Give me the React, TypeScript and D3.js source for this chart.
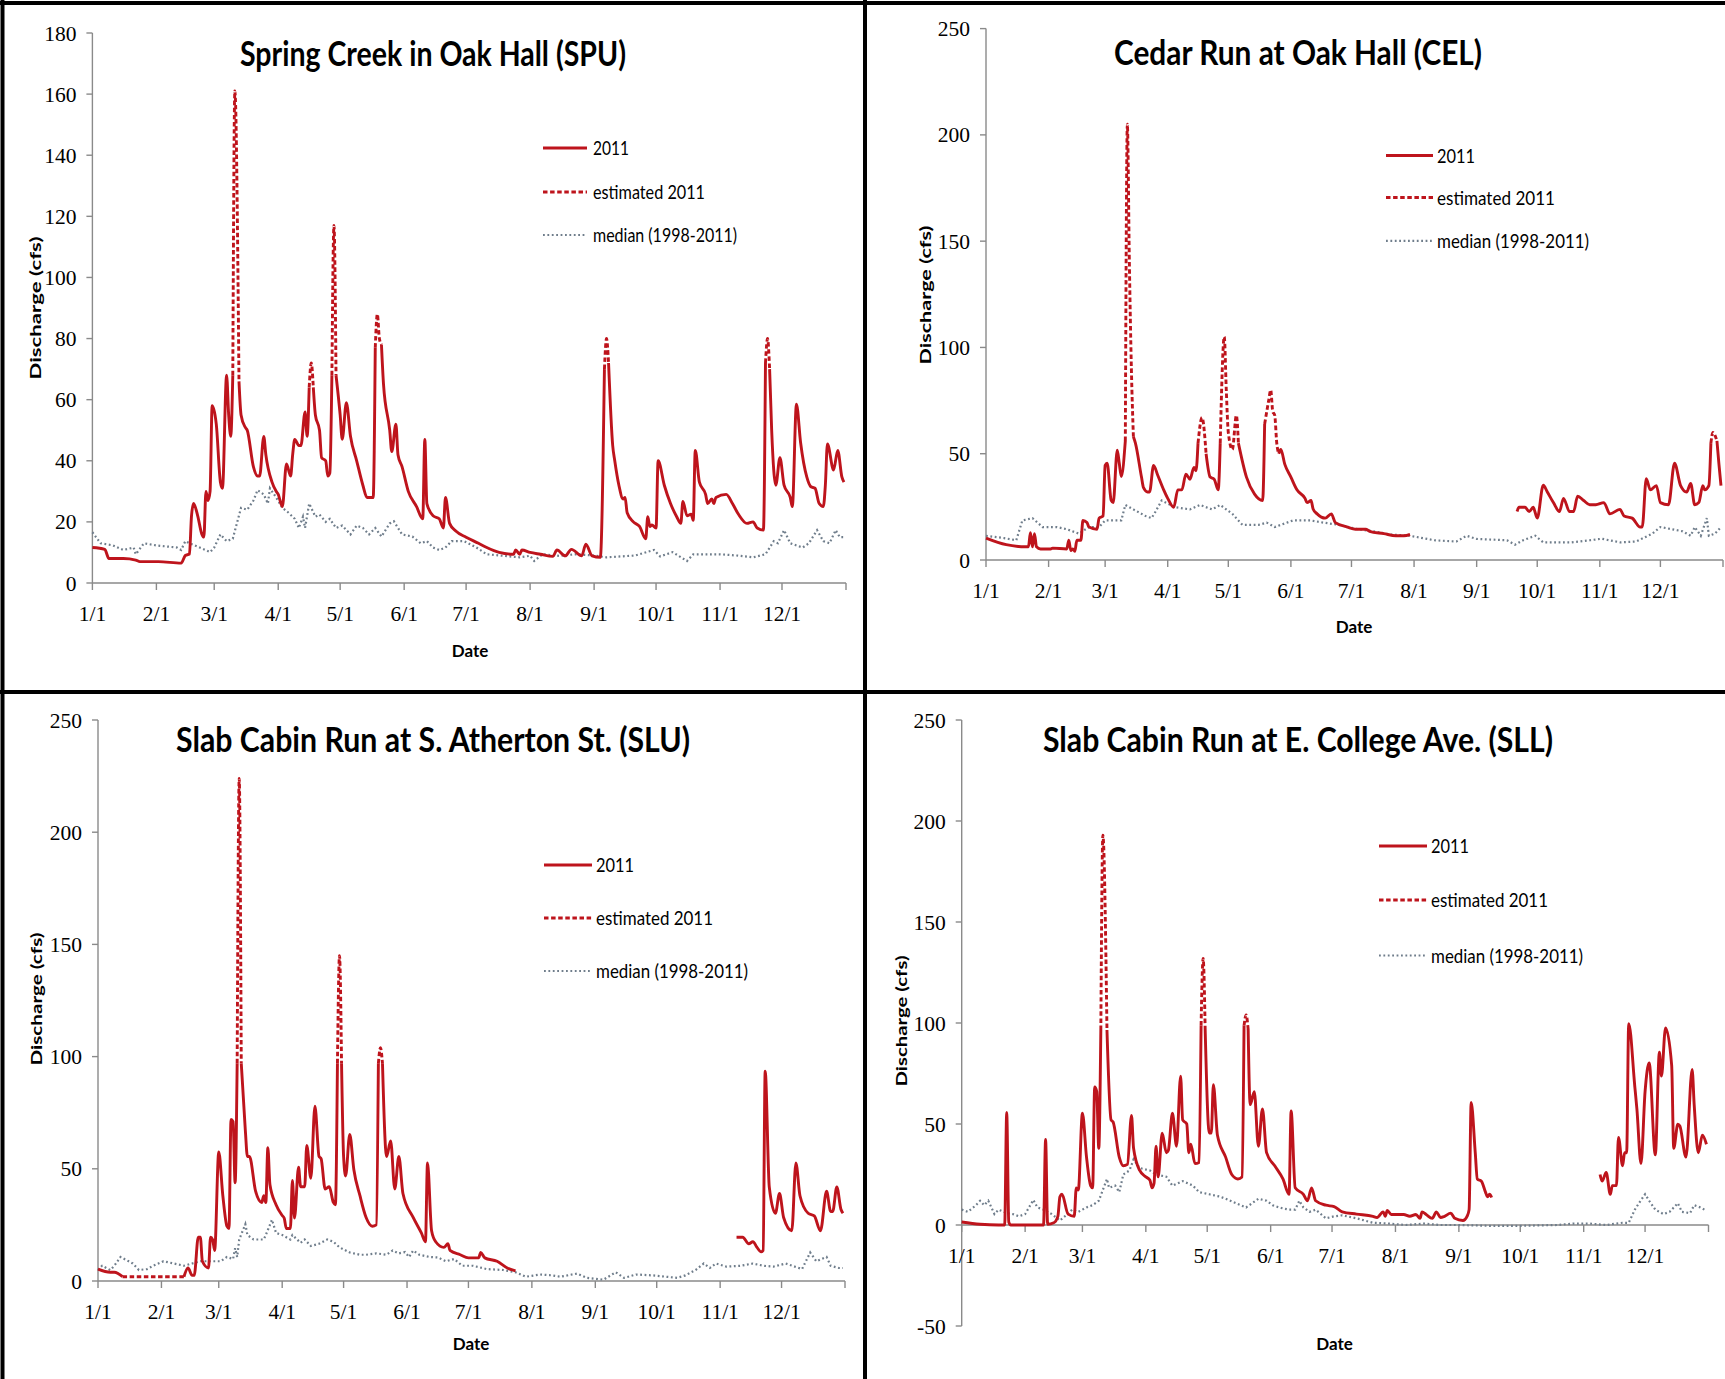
import React from 'react';
import * as d3 from 'd3';

type Pt = [number, number];

// ---- shared axis values -------------------------------------------------
const monthDays = [0, 31, 59, 90, 120, 151, 181, 212, 243, 273, 304, 334, 365];
const monthLabels = ['1/1', '2/1', '3/1', '4/1', '5/1', '6/1', '7/1', '8/1', '9/1', '10/1', '11/1', '12/1'];
const legendLabels = ['2011', 'estimated 2011', 'median (1998-2011)'];

const spuTicks = [0, 20, 40, 60, 80, 100, 120, 140, 160, 180];
const cfsTicks = [0, 50, 100, 150, 200, 250];
const sllTicks = [-50, 0, 50, 100, 150, 200, 250];

// ---- Spring Creek in Oak Hall (SPU) -----------------------------------
const spuObs: Pt[][] = [
  [[0, 11.6], [6, 11], [8, 8], [15, 8], [21, 7.5], [23, 7], [32, 7], [43, 6.5], [45, 9], [47, 9.5], [48, 22], [49, 26], [51, 22], [53, 16], [54, 15], [55, 30], [56, 27], [57, 30], [58, 58], [60, 52], [62, 33], [63, 31], [65, 68], [66, 55], [67, 48], [68, 68]],
  [[71, 66], [72, 55], [74, 51], [75, 50], [78, 38], [80, 35], [81, 35], [83, 48], [84, 42], [87, 33], [89, 30], [90, 29], [92, 25], [94, 39], [96, 35], [97, 42], [98, 47], [100, 45], [101, 45], [103, 56], [104, 48], [105, 64]],
  [[107, 64], [108, 55], [110, 50], [111, 41], [113, 40], [114, 35], [115, 36], [116, 68]],
  [[118, 68], [120, 55], [121, 47], [123, 59], [125, 48], [128, 40], [131, 32], [133, 28], [136, 28], [137, 77]],
  [[140, 78], [141, 65], [144, 50], [145, 43], [147, 52], [148, 42], [150, 38], [153, 30], [157, 25], [160, 21], [161, 47], [162, 26], [165, 22], [168, 21], [170, 18], [171, 28], [173, 19.5], [176, 17], [181, 15], [187, 13], [191, 11.6], [197, 10], [204, 9.4], [205, 10.8], [207, 9.4], [208, 10.8], [212, 10], [217, 9.4], [223, 8.7], [225, 10.8], [229, 8.9], [232, 11], [237, 8.9], [239, 12.7], [242, 8.9], [246, 8.4], [248, 70]],
  [[250, 72], [252, 45], [253, 40], [255, 32], [257, 27.5], [258, 28], [259, 23], [262, 20], [265, 18.5], [268, 14.5], [269, 21.7], [270, 18.5], [271, 19], [273, 18], [274, 40], [277, 32], [280, 26], [283, 21.7], [285, 19.5], [286, 26.7], [288, 22], [290, 22.5], [291, 20.5], [292, 43.4], [294, 33], [297, 29], [298, 26], [300, 27.5], [301, 26], [302, 28], [307, 29], [310, 26], [313, 22.4], [317, 19.5], [320, 20], [322, 18], [325, 17.3], [326, 72]],
  [[328, 70], [329, 50], [331, 32], [333, 41], [335, 32], [338, 28], [339, 25], [341, 58.5], [343, 46], [346, 34.7], [348, 31.5], [350, 31], [352, 26], [354, 25], [355, 32], [356, 45.5], [359, 37], [361, 43.4], [363, 34.7], [364, 33]],
];
const spuEst: Pt[][] = [
  [[68, 68], [69, 161], [71, 66]],
  [[105, 64], [106, 72], [107, 64]],
  [[116, 68], [117, 117], [118, 68]],
  [[137, 77], [138, 88], [139, 80], [140, 78]],
  [[248, 70], [249, 80], [250, 72]],
  [[326, 72], [327, 80], [328, 70]],
];
const spuMedian: Pt[] = [
  [0, 16.6], [4, 13], [10, 12.3], [15, 10.8], [20, 11.6], [21, 9.4], [25, 13], [31, 12.3], [41, 11.6], [43, 10.8], [45, 13.7], [47, 13], [52, 11.6], [57, 10.1], [59, 11.6], [62, 15.9], [65, 13.7], [68, 14.5], [72, 24.6], [75, 24], [78, 27], [80, 30.4], [83, 29], [85, 26], [86, 31], [89, 28], [92, 24.6], [95, 23], [98, 21], [100, 18], [102, 21.7], [103, 18], [105, 26], [108, 21.7], [110, 22.4], [113, 20], [115, 21], [118, 18], [121, 18.8], [125, 15.9], [128, 18.8], [131, 18], [134, 15.9], [137, 18], [140, 15.2], [144, 19.5], [146, 20.2], [150, 15.9], [155, 15.2], [159, 13], [162, 13.7], [165, 11.6], [168, 10.8], [171, 11.6], [174, 13.7], [180, 13.7], [186, 11.6], [191, 9.4], [199, 8.9], [207, 8.4], [212, 8.9], [214, 7.2], [218, 9.4], [226, 8.9], [234, 9.4], [243, 9], [249, 8.4], [263, 9], [272, 10.8], [275, 8.7], [281, 10.1], [288, 7.2], [291, 9.4], [304, 9.4], [312, 9], [320, 8.4], [326, 9.4], [330, 13.7], [332, 13], [335, 17.3], [338, 13], [344, 11.6], [347, 13], [351, 17.3], [354, 13.7], [357, 13], [360, 17.3], [362, 15], [364, 15],
];

// ---- Cedar Run at Oak Hall (CEL) ----------------------------------------
const celObs: Pt[][] = [
  [[0, 10.3], [10, 7.2], [20, 6.2], [21, 6.2], [22, 12.8], [23, 6.2], [24, 12.4], [25, 6.2], [27, 5.2], [32, 5.2], [33, 5.6], [40, 5.2], [41, 9.3], [42, 4.5], [43, 5.2], [44, 4.1], [45, 9.3], [47, 9.3], [48, 18.6], [50, 17.6], [51, 15.5], [55, 14.5], [56, 19.7], [58, 20.7], [59, 44.5], [60, 45.5], [62, 28], [63, 27], [65, 51.7], [66, 45.5], [67, 39.3], [69, 56]],
  [[73, 58], [74, 55], [77, 39], [78, 34], [80, 32], [81, 32], [83, 44.5], [85, 40], [88, 33], [90, 29], [93, 24.8], [95, 33], [97, 33], [99, 40.4], [101, 38], [103, 43.5], [104, 42], [105, 55]],
  [[109, 50], [111, 39], [113, 38], [115, 33], [116, 55]],
  [[125, 55], [129, 39], [133, 31], [137, 28], [138, 64]],
  [[145, 50], [146, 52], [148, 45], [151, 39], [154, 33], [158, 29], [159, 27], [161, 28], [162, 24], [164, 21.7], [168, 19.7], [171, 21.7], [173, 17.6], [179, 15.5], [183, 14.5], [188, 14.5], [190, 13.5], [197, 12.4], [203, 11.4], [207, 11.4], [210, 12]],
  [[263, 22.8], [264, 24.8], [267, 24.8], [269, 22.8], [271, 24.8], [273, 19.7], [276, 35.2], [278, 32], [281, 27], [284, 22.8], [286, 29], [289, 22.8], [291, 22.8], [293, 30], [296, 28], [299, 26], [302, 26], [306, 27], [309, 21.7], [314, 23.8], [316, 20.7], [320, 19.7], [324, 15.5], [325, 15.5], [327, 38.3], [329, 33], [332, 35], [334, 27], [338, 26], [341, 45.5], [344, 35], [347, 32], [349, 36], [351, 26], [353, 27], [355, 35], [356, 33], [358, 35], [359, 55]],
  [[362, 56], [363, 45], [364, 35]],
];
const celEst: Pt[][] = [
  [[69, 56], [70, 205], [71, 140], [72, 90], [73, 58]],
  [[105, 55], [107, 67], [109, 50]],
  [[116, 55], [118, 105], [119, 80], [120, 60], [122, 52], [124, 68], [125, 55]],
  [[138, 64], [140, 75], [141, 80], [142, 70], [143, 68], [144, 55], [145, 50]],
  [[359, 55], [360, 60], [362, 56]],
];
const celMedian: Pt[] = [
  [0, 11.4], [9, 10.3], [15, 9.3], [18, 18.6], [23, 19.7], [28, 15.5], [35, 15.5], [40, 14.5], [46, 12.4], [51, 15.5], [56, 15.5], [59, 18.6], [67, 18.6], [69, 25.9], [73, 23.8], [79, 20.7], [82, 19.7], [84, 22.8], [87, 28], [89, 27], [94, 24.8], [101, 23.8], [106, 25.9], [112, 23.8], [116, 25.9], [122, 21.7], [127, 16.5], [135, 16.5], [139, 17.6], [143, 15.5], [152, 18.6], [158, 18.6], [161, 18.6], [167, 17.6], [175, 16.5], [184, 14.5], [192, 13.5], [200, 12], [210, 11.4], [222, 9.3], [233, 8.7], [238, 11.4], [243, 9.9], [258, 9.3], [262, 7.2], [266, 9.3], [272, 11.4], [276, 8.3], [290, 8.3], [299, 9.3], [305, 10], [314, 8.3], [322, 8.7], [330, 12.4], [334, 15.5], [345, 13.5], [349, 11.4], [351, 15.5], [354, 11.4], [357, 19.7], [358, 11.4], [361, 12.4], [364, 15.5],
];

// ---- Slab Cabin Run at S. Atherton St. (SLU) ---------------------------
const sluObs: Pt[][] = [
  [[0, 5.3], [6, 3.9], [8, 3.9], [12, 1.9]],
  [[42, 1.9], [44, 5.8], [46, 2.5], [47, 2.5], [49, 19.5], [50, 19.5], [51, 8.8], [54, 5.8], [55, 19.5], [56, 18.5], [57, 13.6], [59, 57.5], [61, 38], [63, 24.4], [64, 23.4], [65, 72], [66, 71], [67, 43.8], [68, 97]],
  [[70, 97], [72, 67], [73, 55.5], [74, 55.5], [77, 40], [80, 35], [81, 38], [82, 35], [83, 59.4], [84, 43], [87, 34], [90, 29.2], [91, 28], [92, 23.4], [94, 23.4], [95, 44.8], [96, 28], [98, 50.7], [99, 42], [101, 42], [102, 60.4], [104, 45.8], [106, 77.9], [108, 55.5], [109, 54.5], [111, 41], [113, 42], [115, 35], [116, 34], [117, 97]],
  [[119, 97], [120, 55.5], [121, 46.8], [123, 65.3], [125, 49.7], [128, 38], [131, 28.3], [134, 24.4], [136, 25], [137, 97]],
  [[139, 97], [141, 55.5], [143, 62.4], [145, 41], [147, 55.5], [149, 39], [154, 28.3], [158, 21.4], [160, 17.5], [161, 52.6], [163, 22.4], [165, 17.5], [169, 15], [171, 16.6], [172, 13.6], [177, 11.7], [181, 10.3], [186, 10.3], [187, 12.7], [189, 10.3], [195, 8.8], [200, 5.8], [204, 4.5]],
  [[312, 19.5], [315, 19.5], [318, 16.6], [320, 17.5], [322, 15], [324, 13], [325, 13.6], [326, 93.5], [328, 41.9], [331, 30.2], [333, 39], [335, 28.3], [339, 22.4], [341, 52.6], [343, 38], [347, 30.2], [350, 29], [353, 22.4], [356, 40], [358, 31], [359, 31], [361, 41.9], [363, 32], [364, 30.2]],
];
const sluEst: Pt[][] = [
  [[12, 1.9], [42, 1.9]],
  [[68, 97], [69, 224], [70, 97]],
  [[117, 97], [118, 145], [119, 97]],
  [[137, 97], [138, 104], [139, 97]],
];
const sluMedian: Pt[] = [
  [0, 4.9], [2, 6.8], [6, 4.9], [8, 6.8], [11, 10.7], [15, 8.8], [17, 7.8], [20, 4.9], [24, 5.3], [27, 6.8], [32, 8.8], [37, 7.8], [42, 6.8], [46, 7.8], [50, 8.8], [55, 8.8], [60, 8.8], [63, 10.7], [66, 9.8], [67, 14.6], [68, 10.7], [69, 18.5], [72, 25.3], [73, 20.5], [76, 18.5], [81, 18.5], [82, 20.5], [85, 27.3], [87, 21.4], [90, 20.5], [94, 18.5], [95, 20.5], [99, 17], [101, 18.5], [104, 15.6], [108, 16.6], [112, 18.5], [115, 17.5], [118, 15], [123, 12.7], [128, 11.7], [131, 11.7], [136, 12.3], [141, 11.7], [144, 13.6], [147, 12.3], [150, 12.9], [152, 10.7], [154, 13.6], [157, 11.7], [162, 10.7], [166, 10.5], [170, 8.8], [174, 9.8], [178, 6.8], [183, 6.8], [190, 5.3], [198, 4.9], [204, 3.9], [209, 1.9], [216, 2.9], [222, 2.5], [226, 1.9], [234, 3.3], [239, 1.4], [247, 0.6], [253, 3.9], [257, 1.4], [263, 2.9], [271, 2.5], [283, 1.4], [287, 2.5], [292, 4.9], [296, 7.8], [299, 5.8], [302, 7.8], [307, 6.4], [314, 6.8], [320, 7.8], [325, 6.8], [330, 6.4], [336, 7.8], [344, 5.3], [348, 12.7], [351, 8.8], [356, 10.7], [358, 6.8], [362, 5.8], [364, 5.8],
];

// ---- Slab Cabin Run at E. College Ave. (SLL) ---------------------------
const sllObs: Pt[][] = [
  [[0, 1.5], [9, 0.4], [18, 0], [21, 0], [22, 55.7], [23, 1.5], [24, 0], [40, 0], [41, 42.3], [42, 0.4], [45, 1.1], [47, 4.3], [48, 14], [49, 15.2], [52, 5.4], [55, 4.3], [56, 18.4], [57, 17.3], [59, 55.3], [61, 33.6], [63, 19.5], [64, 18.4], [65, 68.3], [66, 66], [67, 38], [68, 96.5]],
  [[71, 96.5], [73, 52], [74, 51], [77, 33.6], [79, 29.3], [81, 30], [83, 54.2], [84, 38], [87, 27], [90, 23.8], [92, 22.2], [93, 18.4], [94, 20.6], [95, 39], [96, 23.8], [98, 45.5], [100, 35.8], [101, 36.9], [103, 55.3], [105, 39], [107, 73.7], [108, 52], [110, 50], [111, 35.8], [112, 40], [114, 30.4], [116, 31], [117, 98.7]],
  [[119, 96.5], [121, 45.5], [122, 45.5], [123, 69.4], [125, 44.4], [129, 33.6], [132, 25], [135, 22.8], [137, 23.8], [138, 98.7]],
  [[140, 97], [141, 59.6], [143, 66], [145, 39], [147, 57.5], [149, 35.8], [153, 29.3], [157, 22.8], [160, 15.2], [161, 56.4], [163, 18.4], [167, 15.2], [169, 12], [171, 18.4], [173, 12], [178, 9.8], [182, 9.1], [186, 6.5], [193, 5.4], [201, 4.3], [203, 3.7], [206, 6.5], [207, 4.3], [208, 7.2], [210, 5.2], [216, 5.2], [219, 4.3], [222, 5.2], [224, 3.3], [225, 6.5], [227, 5.2], [230, 3.3], [232, 6.5], [234, 3.7], [236, 4.3], [239, 5.9], [241, 3.3], [245, 2.2], [247, 4.3], [248, 7.6], [249, 60.7], [251, 35.8], [252, 22.8], [254, 21.7], [256, 16.3], [257, 14], [258, 15.2], [259, 13.6]],
  [[312, 25], [313, 21.7], [315, 26], [317, 15.2], [318, 19.5], [320, 19.5], [321, 43.4], [323, 29.3], [324, 35.8], [325, 35.8], [326, 99.7], [329, 68.3], [330, 57.5], [332, 30.4], [334, 66], [336, 80.2], [339, 34.7], [341, 85.6], [342, 73.7], [344, 97.6], [347, 79], [348, 38], [350, 49.9], [351, 49], [354, 33.6], [357, 77], [358, 59.6], [360, 35.8], [362, 44.4], [364, 40]],
];
const sllEst: Pt[][] = [
  [[68, 96.5], [69, 193], [71, 96.5]],
  [[117, 98.7], [118, 132], [119, 96.5]],
  [[138, 98.7], [139, 104], [140, 97]],
];
const sllMedian: Pt[] = [
  [0, 7.6], [3, 6.5], [7, 9.8], [9, 12], [11, 9.8], [13, 12], [16, 5.4], [18, 7.6], [22, 5.9], [25, 5.4], [28, 4.3], [31, 5.4], [35, 12.4], [37, 8.7], [40, 7.6], [44, 5.4], [48, 2.2], [51, 4.8], [54, 7.6], [57, 6.5], [61, 8.7], [64, 9.8], [67, 12], [69, 17.4], [71, 22.8], [72, 18.4], [75, 19.5], [77, 16.3], [79, 25], [82, 27], [84, 32.5], [87, 28.2], [92, 27], [95, 25], [100, 23.9], [103, 19.5], [108, 21.7], [113, 19.5], [116, 16.3], [121, 15.2], [126, 14.1], [129, 13], [134, 10.8], [139, 8.7], [142, 10.8], [145, 13], [149, 12], [152, 9.8], [155, 8.7], [158, 8], [160, 7.6], [163, 7.6], [165, 12], [167, 8.7], [170, 6.5], [173, 7.6], [178, 3.3], [182, 4.3], [186, 4.8], [193, 3.3], [201, 1.1], [209, 0.7], [217, 0], [226, 0.7], [234, 0], [242, 0], [258, -0.4], [274, -0.4], [291, 0], [299, 0.7], [307, 0.7], [315, 0], [323, 1.1], [326, 1.1], [329, 7.6], [331, 10.8], [334, 15.2], [336, 12], [339, 7.6], [343, 5.4], [346, 6.5], [350, 10.8], [352, 6.5], [356, 5.9], [358, 9.8], [361, 8.7], [363, 7.6],
];

// ---- styling ------------------------------------------------------------
const RED = '#BE141C';
const MEDIAN = '#6F7D8B';
const AXIS = '#8A8A8A';
const SANS = 'Lato, "Open Sans", "Noto Sans", sans-serif';
const SERIF = '"Liberation Serif", "DejaVu Serif", serif';
const LINE_W = 2.9;

interface Frame {
  left: number; right: number; top: number; bottom: number;
  titleX: number; titleY: number; titleW: number;
  yLabX: number; yLabY: number; yLabW: number;
  dateX: number; dateY: number;
  legLine: [number, number]; legTextX: number; legY: number[]; legW: number[];
}

interface PanelSpec {
  title: string;
  obs: Pt[][]; est: Pt[][]; median: Pt[];
  yDomain: [number, number]; yTicks: number[];
  frame: Frame;
}

const panels: PanelSpec[] = [
  {
    title: 'Spring Creek in Oak Hall (SPU)', obs: spuObs, est: spuEst, median: spuMedian,
    yDomain: [0, 180], yTicks: spuTicks,
    frame: {
      left: 92.4, right: 846, top: 33, bottom: 583,
      titleX: 433, titleY: 66, titleW: 386,
      yLabX: 40.5, yLabY: 308, yLabW: 143,
      dateX: 470, dateY: 657,
      legLine: [543, 587], legTextX: 593, legY: [148, 192, 235], legW: [36, 112, 144],
    },
  },
  {
    title: 'Cedar Run at Oak Hall (CEL)', obs: celObs, est: celEst, median: celMedian,
    yDomain: [0, 250], yTicks: cfsTicks,
    frame: {
      left: 986, right: 1723, top: 28.6, bottom: 560,
      titleX: 1298, titleY: 65, titleW: 368,
      yLabX: 930.5, yLabY: 295, yLabW: 139,
      dateX: 1354, dateY: 633,
      legLine: [1386, 1433], legTextX: 1437, legY: [155.5, 197.5, 240.8], legW: [38, 118, 152],
    },
  },
  {
    title: 'Slab Cabin Run at S. Atherton St. (SLU)', obs: sluObs, est: sluEst, median: sluMedian,
    yDomain: [0, 250], yTicks: cfsTicks,
    frame: {
      left: 98, right: 845, top: 720, bottom: 1281,
      titleX: 433, titleY: 752, titleW: 514,
      yLabX: 42, yLabY: 999, yLabW: 133,
      dateX: 471, dateY: 1350,
      legLine: [544, 592], legTextX: 596, legY: [865, 918, 971], legW: [38, 117, 152],
    },
  },
  {
    title: 'Slab Cabin Run at E. College Ave. (SLL)', obs: sllObs, est: sllEst, median: sllMedian,
    yDomain: [-50, 250], yTicks: sllTicks,
    frame: {
      left: 961.7, right: 1708.5, top: 720, bottom: 1326,
      titleX: 1298, titleY: 752, titleW: 510,
      yLabX: 907, yLabY: 1021, yLabW: 131,
      dateX: 1334.5, dateY: 1350,
      legLine: [1379, 1427], legTextX: 1431, legY: [846, 900, 955.5], legW: [38, 117, 152],
    },
  },
];

function Panel({ p }: { p: PanelSpec }) {
  const f = p.frame;
  const x = d3.scaleLinear().domain([0, 365]).range([f.left, f.right]);
  const y = d3.scaleLinear().domain(p.yDomain).range([f.bottom, f.top]);
  // recorded flow: smooth recession curves between daily readings
  const flowLine = d3.line<Pt>().x(d => x(d[0])).y(d => y(d[1])).curve(d3.curveMonotoneX);
  const medianLine = d3.line<Pt>().x(d => x(d[0])).y(d => y(d[1]));
  const y0 = y(0);

  const legendStyles = [
    { stroke: RED, dash: undefined as string | undefined, width: LINE_W },
    { stroke: RED, dash: '4.5,2.6', width: LINE_W },
    { stroke: MEDIAN, dash: '1.8,2.6', width: 2.2 },
  ];

  return (
    <g>
      {/* axes */}
      <line x1={f.left} x2={f.left} y1={f.top} y2={f.bottom} stroke={AXIS} strokeWidth={1.4} />
      {p.yTicks.map(t => (
        <g key={`yt${t}`}>
          <line x1={f.left - 6} x2={f.left} y1={y(t)} y2={y(t)} stroke={AXIS} strokeWidth={1.4} />
          <text x={f.left - 16} y={y(t)} dy="0.35em" textAnchor="end" fontFamily={SERIF} fontSize={21.5} fill="#000">{t}</text>
        </g>
      ))}
      <line x1={f.left} x2={f.right} y1={y0} y2={y0} stroke={AXIS} strokeWidth={1.4} />
      {monthDays.map(d => (
        <line key={`xt${d}`} x1={x(d)} x2={x(d)} y1={y0} y2={y0 + 7} stroke={AXIS} strokeWidth={1.4} />
      ))}
      {monthLabels.map((lab, i) => (
        <text key={`xl${lab}`} x={x(monthDays[i])} y={y0 + 37.5} textAnchor="middle" fontFamily={SERIF} fontSize={21.5} fill="#000">{lab}</text>
      ))}

      {/* series */}
      <path d={medianLine(p.median) ?? ''} fill="none" stroke={MEDIAN} strokeWidth={2.2} strokeDasharray="1.8,2.6" />
      {p.obs.map((seg, i) => (
        <path key={`o${i}`} d={flowLine(seg) ?? ''} fill="none" stroke={RED} strokeWidth={LINE_W} strokeLinejoin="round" />
      ))}
      {p.est.map((seg, i) => (
        <path key={`e${i}`} d={flowLine(seg) ?? ''} fill="none" stroke={RED} strokeWidth={LINE_W} strokeDasharray="4.5,2.6" />
      ))}

      {/* titles */}
      <text x={f.titleX} y={f.titleY} textAnchor="middle" fontFamily={SANS} fontWeight={700} fontSize={35} fill="#000"
        textLength={f.titleW} lengthAdjust="spacingAndGlyphs">{p.title}</text>
      <text transform={`translate(${f.yLabX},${f.yLabY}) rotate(-90)`} textAnchor="middle" fontFamily={SANS} fontWeight={700}
        fontSize={16} fill="#000" textLength={f.yLabW} lengthAdjust="spacingAndGlyphs">Discharge (cfs)</text>
      <text x={f.dateX} y={f.dateY} textAnchor="middle" fontFamily={SANS} fontWeight={700} fontSize={17} fill="#000">Date</text>

      {/* legend */}
      {legendLabels.map((lab, i) => (
        <g key={`lg${i}`}>
          <line x1={f.legLine[0]} x2={f.legLine[1]} y1={f.legY[i]} y2={f.legY[i]} stroke={legendStyles[i].stroke}
            strokeWidth={legendStyles[i].width} strokeDasharray={legendStyles[i].dash} />
          <text x={f.legTextX} y={f.legY[i]} dy="0.35em" fontFamily={SANS} fontSize={20} fill="#000"
            textLength={f.legW[i]} lengthAdjust="spacingAndGlyphs">{lab}</text>
        </g>
      ))}
    </g>
  );
}

export default function App() {
  const W = 1725;
  const H = 1379;
  return (
    <svg width={W} height={H} viewBox={`0 0 ${W} ${H}`}
      style={{ position: 'absolute', left: 0, top: 0, background: '#fff' }}>
      <rect x={0} y={0} width={W} height={H} fill="#fff" />
      {panels.map((p, i) => <Panel key={i} p={p} />)}
      {/* panel frame */}
      <line x1={0} x2={W} y1={3} y2={3} stroke="#000" strokeWidth={4} />
      <line x1={2.5} x2={2.5} y1={0} y2={H} stroke="#000" strokeWidth={4} />
      <line x1={865} x2={865} y1={0} y2={H} stroke="#000" strokeWidth={4} />
      <line x1={0} x2={W} y1={692} y2={692} stroke="#000" strokeWidth={4} />
    </svg>
  );
}
